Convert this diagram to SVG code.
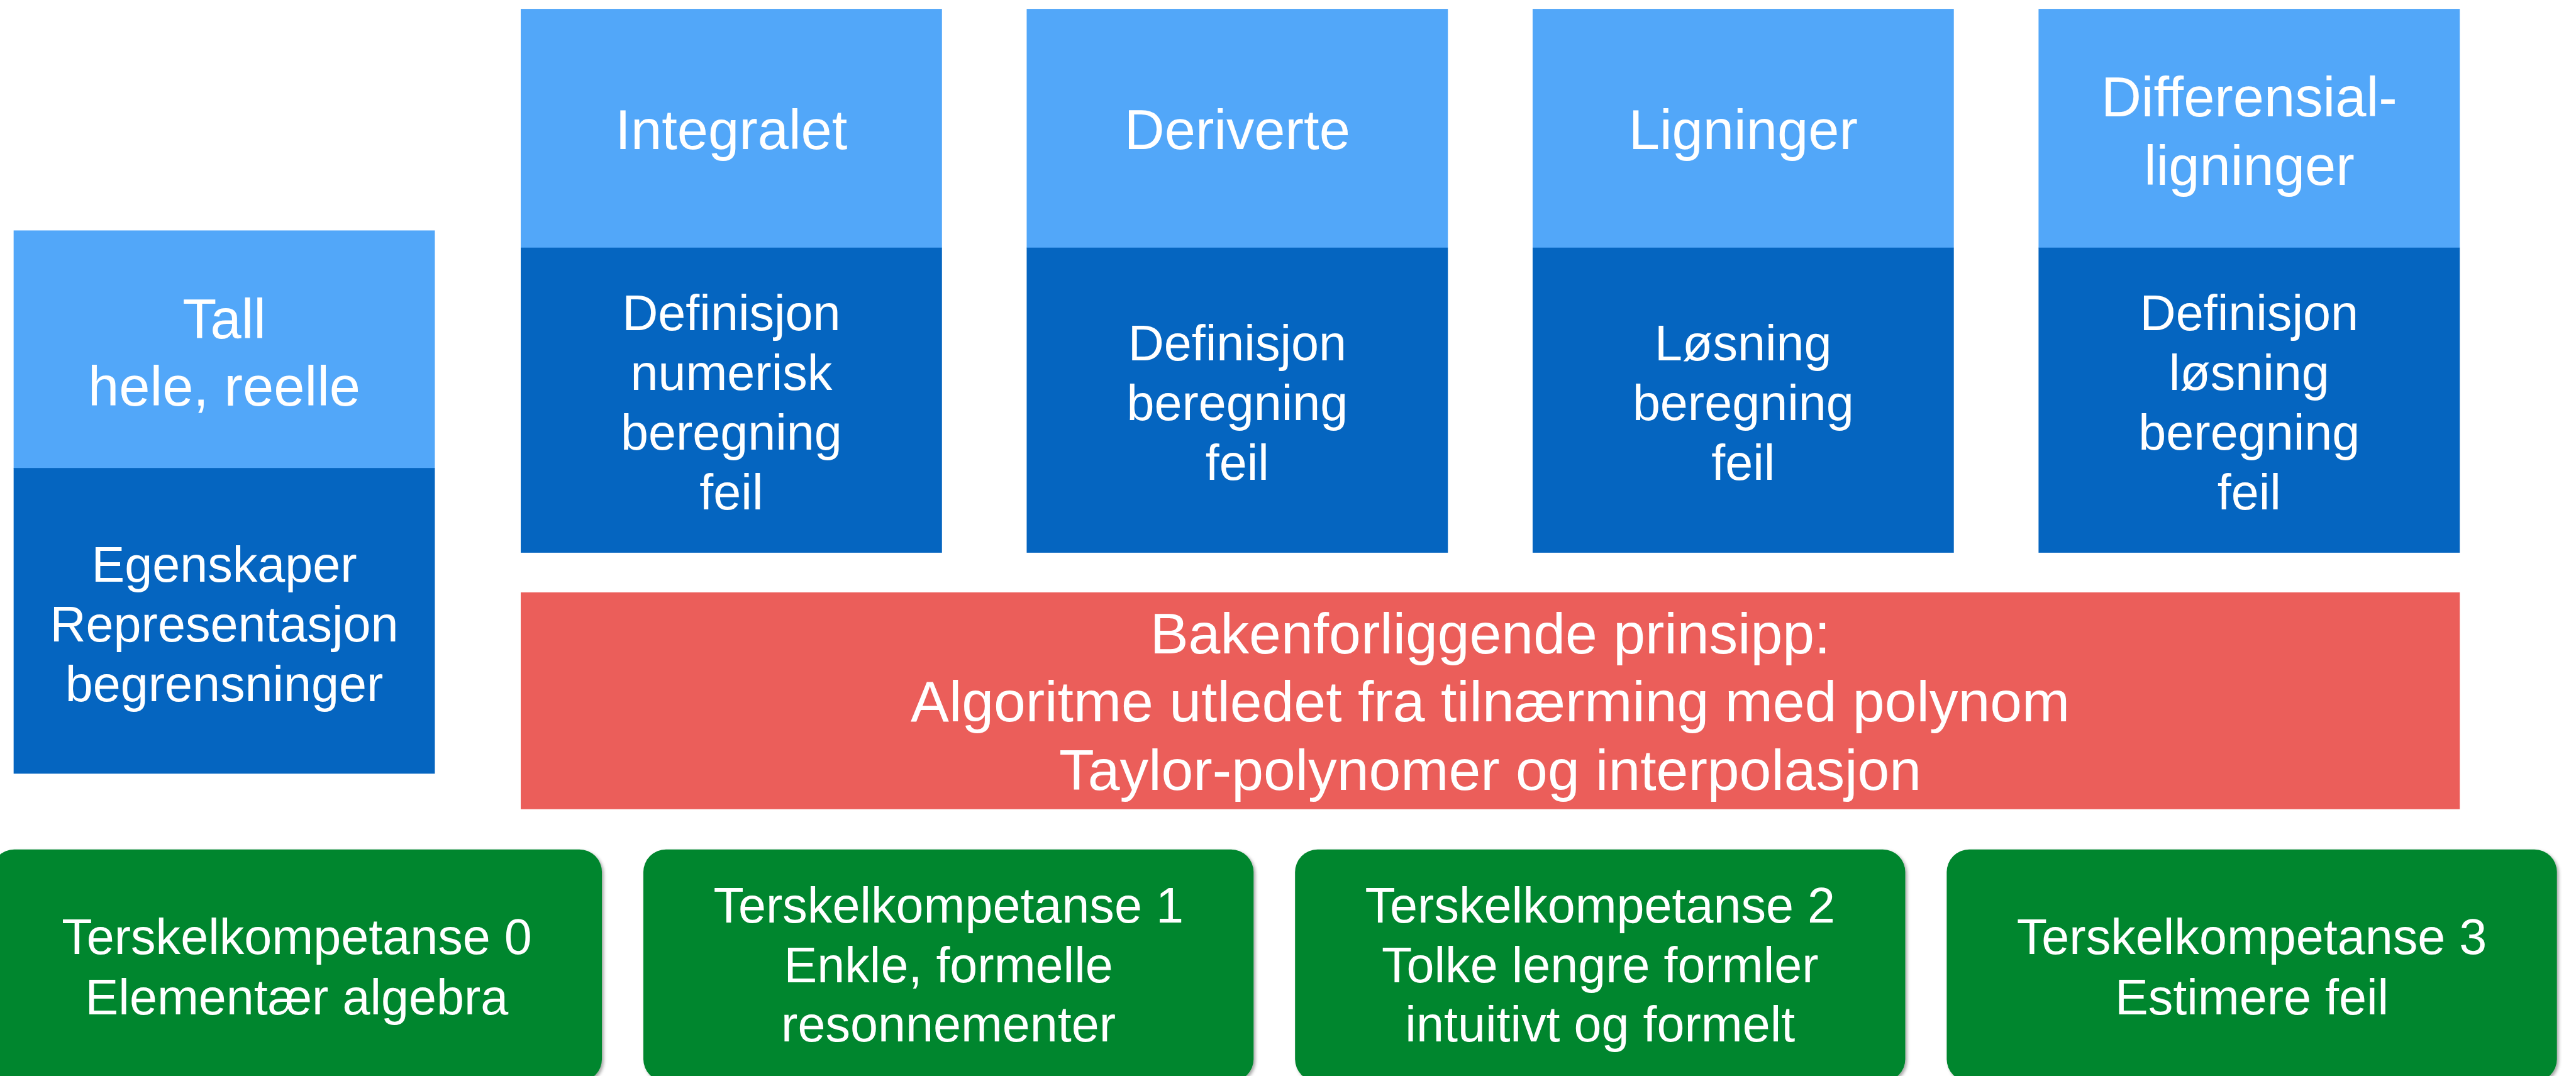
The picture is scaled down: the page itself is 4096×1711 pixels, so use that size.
<svg xmlns="http://www.w3.org/2000/svg" width="4096" height="1711" viewBox="0 0 4096 1711">
<style>
  .light { fill: #52A7F9; }
  .dark { fill: #0565C0; }
  .red { fill: #EB5E5A; }
  .green { fill: #03862D; }
  text { font-family: "Liberation Sans", Arial, Helvetica, sans-serif; fill: #FFFFFF; text-anchor: middle; }
  .h { font-size: 94px; }
  .b { font-size: 84px; }
  .r { font-size: 97px; }
  .g { font-size: 84px; }
</style>
<defs>
  <filter id="shadow" x="-5%" y="-5%" width="110%" height="115%">
    <feDropShadow dx="3" dy="3" stdDeviation="3" flood-color="#000000" flood-opacity="0.35"/>
  </filter>
</defs>
<rect x="0" y="0" width="4096" height="1711" fill="#FFFFFF"/>
<g transform="scale(0.942)">
  <g id="connectors"></g>

  <g id="tall">
    <rect class="light" x="23" y="389" width="711" height="402"/>
    <rect class="dark" x="23" y="790" width="711" height="516"/>
    <text class="h" x="378.5" y="571">Tall</text>
    <text class="h" x="378.5" y="684.5">hele, reelle</text>
    <text class="b" x="378.5" y="981.5">Egenskaper</text>
    <text class="b" x="378.5" y="1082.5">Representasjon</text>
    <text class="b" x="378.5" y="1183.5">begrensninger</text>
  </g>

  <g id="integralet">
    <rect class="light" x="879" y="15" width="711" height="404"/>
    <rect class="dark" x="879" y="418" width="711" height="515"/>
    <text class="h" x="1234.5" y="252">Integralet</text>
    <text class="b" x="1234.5" y="557">Definisjon</text>
    <text class="b" x="1234.5" y="658">numerisk</text>
    <text class="b" x="1234.5" y="759">beregning</text>
    <text class="b" x="1234.5" y="860">feil</text>
  </g>

  <g id="deriverte">
    <rect class="light" x="1733" y="15" width="711" height="404"/>
    <rect class="dark" x="1733" y="418" width="711" height="515"/>
    <text class="h" x="2088.5" y="252">Deriverte</text>
    <text class="b" x="2088.5" y="608">Definisjon</text>
    <text class="b" x="2088.5" y="709">beregning</text>
    <text class="b" x="2088.5" y="810">feil</text>
  </g>

  <g id="ligninger">
    <rect class="light" x="2587" y="15" width="711" height="404"/>
    <rect class="dark" x="2587" y="418" width="711" height="515"/>
    <text class="h" x="2942.5" y="252">Ligninger</text>
    <text class="b" x="2942.5" y="608">Løsning</text>
    <text class="b" x="2942.5" y="709">beregning</text>
    <text class="b" x="2942.5" y="810">feil</text>
  </g>

  <g id="differensialligninger">
    <rect class="light" x="3441" y="15" width="711" height="404"/>
    <rect class="dark" x="3441" y="418" width="711" height="515"/>
    <text class="h" x="3796.5" y="196">Differensial-</text>
    <text class="h" x="3796.5" y="312">ligninger</text>
    <text class="b" x="3796.5" y="557">Definisjon</text>
    <text class="b" x="3796.5" y="658">løsning</text>
    <text class="b" x="3796.5" y="759">beregning</text>
    <text class="b" x="3796.5" y="860">feil</text>
  </g>

  <g id="prinsipp">
    <rect class="red" x="879" y="1000" width="3273" height="366"/>
    <text class="r" x="2515.5" y="1103">Bakenforliggende prinsipp:</text>
    <text class="r" x="2515.5" y="1218">Algoritme utledet fra tilnærming med polynom</text>
    <text class="r" x="2515.5" y="1333">Taylor-polynomer og interpolasjon</text>
  </g>

  <g id="terskel0">
    <rect class="green" filter="url(#shadow)" x="-14" y="1434" width="1030" height="392" rx="38" ry="38"/>
    <text class="g" x="501" y="1610">Terskelkompetanse 0</text>
    <text class="g" x="501" y="1712">Elementær algebra</text>
  </g>

  <g id="terskel1">
    <rect class="green" filter="url(#shadow)" x="1086" y="1434" width="1030" height="392" rx="38" ry="38"/>
    <text class="g" x="1601" y="1557">Terskelkompetanse 1</text>
    <text class="g" x="1601" y="1658">Enkle, formelle</text>
    <text class="g" x="1601" y="1758">resonnementer</text>
  </g>

  <g id="terskel2">
    <rect class="green" filter="url(#shadow)" x="2186" y="1434" width="1030" height="392" rx="38" ry="38"/>
    <text class="g" x="2701" y="1557">Terskelkompetanse 2</text>
    <text class="g" x="2701" y="1658">Tolke lengre formler</text>
    <text class="g" x="2701" y="1758">intuitivt og formelt</text>
  </g>

  <g id="terskel3">
    <rect class="green" filter="url(#shadow)" x="3286" y="1434" width="1030" height="392" rx="38" ry="38"/>
    <text class="g" x="3801" y="1610">Terskelkompetanse 3</text>
    <text class="g" x="3801" y="1712">Estimere feil</text>
  </g>
</g>
</svg>
